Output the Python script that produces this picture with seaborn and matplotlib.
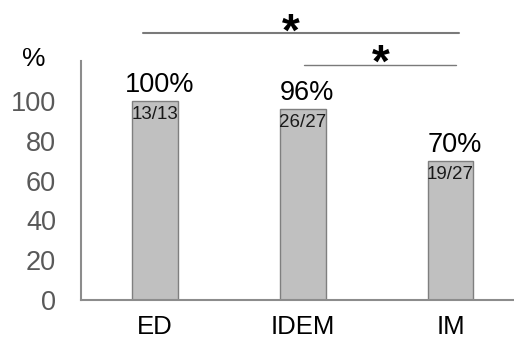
import matplotlib
matplotlib.use("Agg")
import matplotlib.pyplot as plt
import seaborn as sns
import pandas as pd

groups = ["ED", "IDEM", "IM"]
percent = [100, 96, 70]
fractions = ["13/13", "26/27", "19/27"]
y_ticks = [0, 20, 40, 60, 80, 100]

sns.set_theme(style="white")
plt.rcParams["font.family"] = ["Liberation Sans", "DejaVu Sans"]

df = pd.DataFrame({"group": groups, "percent": percent})

fig = plt.figure(figsize=(5.14, 3.38), dpi=100)
ax = fig.add_axes([0.1576, 0.1124, 0.8424, 0.7065])

sns.barplot(data=df, x="group", y="percent", color="#c0c0c0", width=0.31,
            edgecolor="#7f7f7f", linewidth=1.0, saturation=1, ax=ax)

ax.set_xlim(-0.5, 2.43)
ax.set_ylim(0, 120)
ax.set_yticks(y_ticks)
ax.set_xlabel("")
ax.set_ylabel("")
ax.tick_params(axis="y", length=0, pad=18, labelsize=19.5, labelcolor="#595959")
ax.tick_params(axis="x", length=0, pad=11, labelsize=18.5, labelcolor="black")

for side in ["top", "right"]:
    ax.spines[side].set_visible(False)
for side in ["left", "bottom"]:
    ax.spines[side].set_color("#8c8c8c")
    ax.spines[side].set_linewidth(1.5)

# value labels above each bar, counts just inside the top
for i, (p, frac) in enumerate(zip(percent, fractions)):
    ax.text(i + 0.03, p + 1.5, f"{p}%", ha="center", va="bottom",
            fontsize=19.5, color="black")
    ax.text(i, p - 7, frac, ha="center", va="center",
            fontsize=13.5, color="#1a1a1a")

# axis unit
ax.text(-0.82, 121, "%", ha="center", va="center", fontsize=19,
        color="black", clip_on=False)

# significance brackets
ax.plot([-0.08, 2.06], [134, 134], color="#7a7a7a", lw=1.5, clip_on=False)
ax.text(0.92, 134, "*", ha="center", va="center", fontsize=33,
        fontweight="bold", color="black", clip_on=False)
ax.plot([1.01, 2.04], [118, 118], color="#7a7a7a", lw=1.0, clip_on=False)
ax.text(1.53, 118, "*", ha="center", va="center", fontsize=33,
        fontweight="bold", color="black", clip_on=False)

fig.savefig("out.png", dpi=100)
